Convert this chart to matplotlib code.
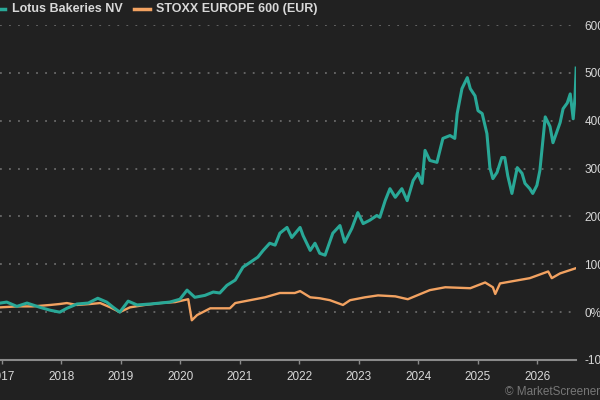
import numpy as np
import matplotlib.pyplot as plt
from matplotlib.lines import Line2D

# decimal year, percent change (rows of 10)
lotus_x = [2016.97, 2017.08, 2017.25, 2017.42, 2017.64, 2017.81, 2017.97, 2018.09, 2018.26, 2018.45,
           2018.61, 2018.76, 2018.87, 2018.98, 2019.12, 2019.27, 2019.49, 2019.66, 2019.82, 2019.99,
           2020.11, 2020.24, 2020.41, 2020.55, 2020.66, 2020.78, 2020.92, 2021.05, 2021.17, 2021.30,
           2021.39, 2021.50, 2021.59, 2021.67, 2021.79, 2021.87, 2022.01, 2022.06, 2022.18, 2022.26,
           2022.34, 2022.43, 2022.56, 2022.68, 2022.76, 2022.88, 2022.98, 2023.07, 2023.18, 2023.30,
           2023.35, 2023.44, 2023.52, 2023.61, 2023.72, 2023.81, 2023.91, 2023.99, 2024.06, 2024.11,
           2024.19, 2024.31, 2024.41, 2024.53, 2024.61, 2024.65, 2024.73, 2024.82, 2024.87, 2024.95,
           2025.00, 2025.07, 2025.15, 2025.20, 2025.25, 2025.32, 2025.40, 2025.45, 2025.50, 2025.57,
           2025.66, 2025.74, 2025.79, 2025.87, 2025.92, 2025.99, 2026.04, 2026.13, 2026.21, 2026.26,
           2026.38, 2026.43, 2026.50, 2026.55, 2026.60, 2026.63, 2026.65]
lotus_y = [19, 21, 12, 19, 10, 4, 0, 8, 17, 19,
           29, 21, 10, 0, 23, 15, 17, 19, 21, 27,
           46, 31, 35, 42, 40, 56, 67, 94, 104, 115,
           129, 144, 140, 165, 177, 156, 177, 160, 129, 144,
           123, 119, 165, 181, 146, 175, 208, 185, 192, 202,
           198, 233, 258, 240, 258, 233, 275, 290, 269, 338,
           317, 313, 363, 369, 363, 415, 467, 490, 467, 452,
           421, 415, 373, 302, 279, 292, 323, 323, 285, 248,
           302, 290, 269, 258, 248, 265, 296, 408, 388, 354,
           396, 425, 437, 456, 404, 448, 510]
stoxx_x = [2016.97, 2017.25, 2017.52, 2017.81, 2017.97, 2018.09, 2018.26, 2018.48, 2018.65, 2018.82,
           2018.98, 2019.15, 2019.40, 2019.66, 2019.91, 2020.13, 2020.19, 2020.28, 2020.50, 2020.83,
           2020.92, 2021.17, 2021.42, 2021.67, 2021.92, 2022.01, 2022.18, 2022.34, 2022.51, 2022.73,
           2022.85, 2023.10, 2023.32, 2023.61, 2023.82, 2024.19, 2024.45, 2024.87, 2025.12, 2025.25,
           2025.29, 2025.37, 2025.87, 2026.18, 2026.24, 2026.38, 2026.65]
stoxx_y = [10, 12, 12, 15, 17, 19, 15, 17, 19, 10,
           0, 10, 15, 19, 21, 27, -17, -6, 8, 8,
           19, 25, 31, 40, 40, 44, 31, 29, 25, 15,
           25, 31, 35, 33, 27, 46, 52, 50, 62, 52,
           38, 60, 71, 85, 71, 81, 92]

years = list(range(2017, 2027))
year_labels = [str(y) for y in years]
pct_ticks = [-100, 0, 100, 200, 300, 400, 500, 600]
pct_labels = [f"{p}%" for p in pct_ticks]

bg = "#212121"
teal = "#29a897"
orange = "#f2a261"
txt = "#d8d8d8"

fig = plt.figure(figsize=(6, 4), dpi=100, facecolor=bg)
ax = fig.add_axes([0, 0.1, 0.96, 0.8375], facecolor=bg)

ax.plot(stoxx_x, stoxx_y, color=orange, lw=1.7, zorder=3)
ax.plot(lotus_x, lotus_y, color=teal, lw=2.2, zorder=4)

ax.set_xlim(2017 - 2 / 59.5, 2017 + 574 / 59.5)
ax.set_ylim(-100, 600)

for s in ["top", "left", "right"]:
    ax.spines[s].set_visible(False)
ax.spines["bottom"].set_color("#8a8a8a")
ax.spines["bottom"].set_linewidth(1.5)

ax.set_xticks(years)
ax.set_xticklabels(year_labels, fontfamily="Liberation Sans", fontsize=8.5, color=txt)
ax.tick_params(axis="x", length=3, width=1, color="#8a8a8a", pad=5)

ax.yaxis.tick_right()
ax.set_yticks(pct_ticks)
ax.set_yticklabels(pct_labels, fontfamily="Liberation Sans", fontsize=8.5, color=txt)
ax.tick_params(axis="y", length=0, pad=6)

ax.grid(axis="y", color="#6a6a6a", linestyle=(0, (1, 4)), linewidth=1.3)
ax.set_axisbelow(True)
ax.get_ygridlines()[0].set_visible(False)

# legend along the top
fig.add_artist(Line2D([-0.01, 0.008], [0.978, 0.978], color=teal, lw=2.5))
fig.text(0.02, 0.978, "Lotus Bakeries NV", color=txt, fontsize=9, fontweight="bold",
         fontfamily="Liberation Sans", va="center")
fig.add_artist(Line2D([0.223, 0.25], [0.978, 0.978], color=orange, lw=2.5))
fig.text(0.26, 0.978, "STOXX EUROPE 600 (EUR)", color=txt, fontsize=9, fontweight="bold",
         fontfamily="Liberation Sans", va="center")

fig.text(1.0, 0.02, "© MarketScreener", color="#777777", fontsize=8.5,
         fontfamily="Liberation Sans", ha="right", va="center")

fig.savefig("out.png", dpi=100, facecolor=bg)
